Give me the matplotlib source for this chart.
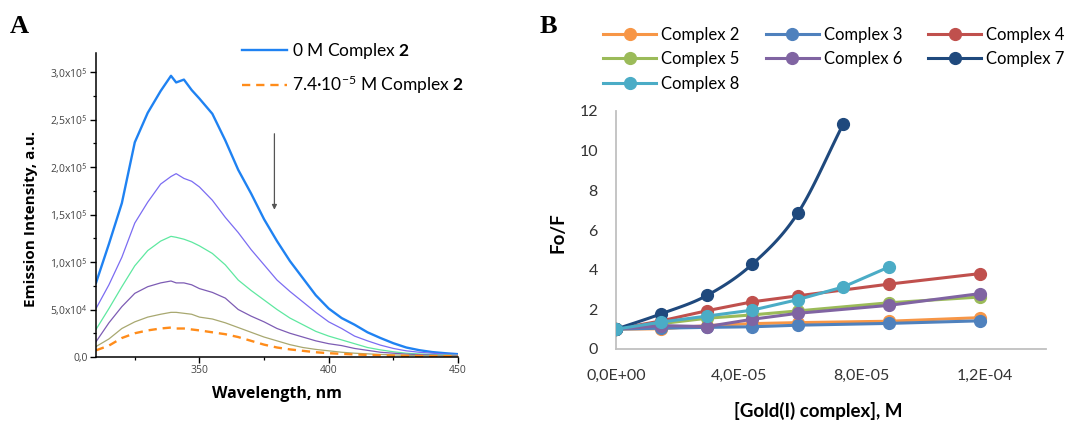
import numpy as np
import matplotlib
matplotlib.use("Agg")
import matplotlib.pyplot as plt
from matplotlib.ticker import MultipleLocator, FuncFormatter
from matplotlib.lines import Line2D

plt.rcParams['mathtext.fontset'] = 'custom'
plt.rcParams['mathtext.rm'] = 'Lato'
plt.rcParams['mathtext.bf'] = 'Lato:bold'
plt.rcParams['mathtext.it'] = 'Lato:italic'

# ---------------- Panel A data: emission spectra ----------------
wavelength = [310, 315, 320, 325, 330, 335, 339, 341, 344, 347, 350, 355, 360, 365, 370,
              375, 380, 385, 390, 395, 400, 405, 410, 415, 420, 425, 430, 435, 440, 445, 450]
spec_0 = [0.78e5, 1.19e5, 1.62e5, 2.26e5, 2.57e5, 2.80e5, 2.96e5, 2.89e5, 2.92e5, 2.81e5, 2.72e5,
          2.56e5, 2.28e5, 1.97e5, 1.72e5, 1.45e5, 1.22e5, 1.01e5, 0.83e5, 0.65e5, 0.51e5, 0.41e5,
          0.34e5, 0.26e5, 0.20e5, 0.145e5, 0.10e5, 0.072e5, 0.052e5, 0.04e5, 0.03e5]
spec_1 = [0.51e5, 0.76e5, 1.05e5, 1.41e5, 1.63e5, 1.82e5, 1.90e5, 1.93e5, 1.88e5, 1.85e5, 1.79e5,
          1.65e5, 1.47e5, 1.31e5, 1.13e5, 0.97e5, 0.81e5, 0.69e5, 0.58e5, 0.47e5, 0.37e5, 0.30e5,
          0.22e5, 0.17e5, 0.125e5, 0.09e5, 0.065e5, 0.05e5, 0.04e5, 0.03e5, 0.025e5]
spec_2 = [0.29e5, 0.51e5, 0.74e5, 0.96e5, 1.12e5, 1.22e5, 1.27e5, 1.26e5, 1.24e5, 1.21e5, 1.17e5,
          1.09e5, 0.97e5, 0.81e5, 0.70e5, 0.60e5, 0.50e5, 0.41e5, 0.34e5, 0.27e5, 0.22e5, 0.18e5,
          0.14e5, 0.10e5, 0.075e5, 0.055e5, 0.04e5, 0.032e5, 0.026e5, 0.022e5, 0.018e5]
spec_3 = [0.16e5, 0.36e5, 0.53e5, 0.67e5, 0.74e5, 0.78e5, 0.80e5, 0.78e5, 0.78e5, 0.76e5, 0.72e5,
          0.68e5, 0.62e5, 0.50e5, 0.43e5, 0.37e5, 0.30e5, 0.25e5, 0.21e5, 0.17e5, 0.14e5, 0.12e5,
          0.09e5, 0.07e5, 0.05e5, 0.04e5, 0.03e5, 0.025e5, 0.02e5, 0.017e5, 0.015e5]
spec_4 = [0.11e5, 0.19e5, 0.30e5, 0.37e5, 0.42e5, 0.45e5, 0.47e5, 0.47e5, 0.46e5, 0.45e5, 0.42e5,
          0.40e5, 0.36e5, 0.31e5, 0.26e5, 0.21e5, 0.17e5, 0.13e5, 0.10e5, 0.08e5, 0.065e5, 0.05e5,
          0.04e5, 0.033e5, 0.027e5, 0.022e5, 0.018e5, 0.015e5, 0.013e5, 0.011e5, 0.01e5]
spec_5 = [0.07e5, 0.12e5, 0.20e5, 0.25e5, 0.28e5, 0.30e5, 0.31e5, 0.30e5, 0.30e5, 0.29e5, 0.28e5,
          0.26e5, 0.24e5, 0.21e5, 0.17e5, 0.13e5, 0.10e5, 0.08e5, 0.065e5, 0.05e5, 0.04e5, 0.033e5,
          0.027e5, 0.022e5, 0.018e5, 0.015e5, 0.013e5, 0.011e5, 0.01e5, 0.009e5, 0.008e5]
legend_a = ["0 M Complex $\\mathbf{2}$", "7.4\u00b710$^{-5}$ M Complex $\\mathbf{2}$"]

# ---------------- Panel B data: Stern-Volmer ----------------
conc_long = [0, 1.48e-5, 2.96e-5, 4.44e-5, 5.92e-5, 8.88e-5, 1.184e-4]
conc_c7 = [0, 1.48e-5, 2.96e-5, 4.44e-5, 5.92e-5, 7.4e-5]
conc_c8 = [0, 1.48e-5, 2.96e-5, 4.44e-5, 5.92e-5, 7.4e-5, 8.88e-5]
fo_c2 = [1.0, 1.02, 1.18, 1.28, 1.33, 1.40, 1.58]
fo_c3 = [1.0, 1.05, 1.09, 1.12, 1.20, 1.29, 1.42]
fo_c4 = [1.0, 1.42, 1.93, 2.38, 2.68, 3.27, 3.80]
fo_c5 = [1.0, 1.28, 1.55, 1.72, 1.92, 2.33, 2.62]
fo_c6 = [1.0, 1.18, 1.13, 1.50, 1.80, 2.20, 2.79]
fo_c7 = [1.0, 1.78, 2.70, 4.28, 6.85, 11.35]
fo_c8 = [1.0, 1.36, 1.66, 1.96, 2.49, 3.13, 4.13]
names_b = ["Complex 2", "Complex 3", "Complex 4", "Complex 5", "Complex 6", "Complex 7", "Complex 8"]

fig = plt.figure(figsize=(10.65, 4.21), dpi=100)

# ================= Panel A =================
W, H = 1065, 421
axA = fig.add_axes([96 / W, 1 - 357 / H, (458 - 96) / W, (357 - 53) / H])
styles = [
    (spec_0, '#1f82f2', 1.7, '-'),
    (spec_1, '#7b6cf2', 0.9, '-'),
    (spec_2, '#5ee8a0', 0.9, '-'),
    (spec_3, '#7d5cb4', 0.9, '-'),
    (spec_4, '#a8a870', 0.9, '-'),
    (spec_5, '#ff8c1a', 1.7, (0, (3.5, 2.5))),
]
lines_a = []
for s, c, lw, ls in styles:
    l, = axA.plot(wavelength, s, color=c, lw=lw, ls=ls)
    lines_a.append(l)
axA.set_xlim(310, 450)
axA.set_ylim(0, 3.2e5)
axA.xaxis.set_major_locator(MultipleLocator(50))
axA.xaxis.set_minor_locator(MultipleLocator(25))
axA.yaxis.set_major_locator(MultipleLocator(5e4))
axA.yaxis.set_minor_locator(MultipleLocator(2.5e4))


def fmt_a(v, pos):
    if v <= 0:
        return "0,0" if abs(v) < 1 else ""
    e = int(np.floor(np.log10(v)))
    m = v / 10 ** e
    return ("%.1f" % m).replace('.', ',') + "x10$^{%d}$" % e


axA.yaxis.set_major_formatter(FuncFormatter(fmt_a))
for sp in ['top', 'right']:
    axA.spines[sp].set_visible(False)
for sp in ['left', 'bottom']:
    axA.spines[sp].set_linewidth(1.1)
axA.tick_params(which='major', length=4, width=1.0, direction='out', labelsize=7.5,
                labelcolor='#444444', pad=2)
axA.tick_params(which='minor', length=2.5, width=0.9, direction='out')
for lab in axA.get_xticklabels() + axA.get_yticklabels():
    lab.set_fontfamily('Open Sans')
axA.set_xlabel("Wavelength, nm", fontsize=11.5, fontweight='bold', family='Open Sans')
axA.set_ylabel("Emission Intensity, a.u.", fontsize=11, fontweight='bold', family='Open Sans')
axA.xaxis.set_label_coords(0.5, -0.097)
axA.yaxis.set_label_coords(-0.16, 0.454)

arrow_x, arrow_y0, arrow_y1 = 379, 2.35e5, 1.55e5
axA.annotate('', xy=(arrow_x, arrow_y1), xytext=(arrow_x, arrow_y0),
             arrowprops=dict(arrowstyle='-|>', color='#555555', lw=0.9,
                             mutation_scale=7, shrinkA=0, shrinkB=0))

legA = fig.legend([lines_a[0], lines_a[5]], legend_a, loc='upper left',
                  bbox_to_anchor=(242 / W, 1 - 41 / H), frameon=False, borderpad=0,
                  borderaxespad=0, handlelength=2.6, handletextpad=0.3, labelspacing=0.75,
                  prop={'family': 'Lato', 'size': 12.5})

fig.text(10 / W, 1 - 33 / H, "A", fontsize=19, fontweight='bold', family='Liberation Serif')
fig.text(540 / W, 1 - 33 / H, "B", fontsize=19, fontweight='bold', family='Liberation Serif')

# ================= Panel B =================
axB = fig.add_axes([616 / W, 1 - 349 / H, (1046 - 616) / W, (349 - 111) / H])
colors_b = ['#F79646', '#4F81BD', '#C0504D', '#9BBB59', '#8064A2', '#1F497D', '#4BACC6']
xs_b = [conc_long, conc_long, conc_long, conc_long, conc_long, conc_c7, conc_c8]
ys_b = [fo_c2, fo_c3, fo_c4, fo_c5, fo_c6, fo_c7, fo_c8]
XMAX, YMAX = 1.4e-4, 12


def catmull(x, y, n=20):
    px = np.asarray(x) / XMAX
    py = np.asarray(y) / YMAX
    P = np.column_stack([px, py])
    P = np.vstack([P[0] - (P[1] - P[0]), P, P[-1] + (P[-1] - P[-2])])
    out = []
    t = np.linspace(0, 1, n)[:, None]
    for i in range(1, len(P) - 2):
        p0, p1, p2, p3 = P[i - 1], P[i], P[i + 1], P[i + 2]
        seg = 0.5 * ((2 * p1) + (-p0 + p2) * t + (2 * p0 - 5 * p1 + 4 * p2 - p3) * t ** 2
                     + (-p0 + 3 * p1 - 3 * p2 + p3) * t ** 3)
        out.append(seg)
    out = np.vstack(out)
    return out[:, 0] * XMAX, out[:, 1] * YMAX


handles_b = []
for i, (xv, yv, c) in enumerate(zip(xs_b, ys_b, colors_b)):
    if names_b[i] == "Complex 7":
        sx, sy = catmull(xv, yv)
        axB.plot(sx, sy, color=c, lw=2.2, zorder=3 + i)
    else:
        axB.plot(xv, yv, color=c, lw=2.2, zorder=3 + i)
    axB.plot(xv, yv, ls='none', marker='o', ms=8.5, color=c, zorder=3 + i)
    handles_b.append(Line2D([], [], color=c, lw=2.2, marker='o', ms=8.5))

axB.set_xlim(0, XMAX)
axB.set_ylim(0, YMAX)
axB.set_xticks([0, 4e-5, 8e-5, 1.2e-4])
axB.set_xticklabels(["0,0E+00", "4,0E-05", "8,0E-05", "1,2E-04"])
axB.set_yticks([0, 2, 4, 6, 8, 10, 12])
for sp in ['top', 'right']:
    axB.spines[sp].set_visible(False)
for sp in ['left', 'bottom']:
    axB.spines[sp].set_color('#c0c0c0')
    axB.spines[sp].set_linewidth(1.3)
axB.tick_params(length=0, labelsize=11.5, labelcolor='#333333')
axB.tick_params(axis='x', pad=14)
axB.tick_params(axis='y', pad=13)
for lab in axB.get_xticklabels() + axB.get_yticklabels():
    lab.set_fontfamily('Lato')
axB.set_ylabel("Fo/F", fontsize=13.5, fontweight='bold', family='Lato')
axB.set_xlabel("[Gold(I) complex], M", fontsize=13.5, fontweight='bold', family='Lato')
axB.yaxis.set_label_coords(-0.114, 0.487)
axB.xaxis.set_label_coords(0.47, -0.222)

order = [0, 3, 6, 1, 4, 2, 5]
fig.legend([handles_b[k] for k in order], [names_b[k] for k in order], ncol=3,
           loc='upper left', bbox_to_anchor=(603 / W, 1 - 27 / H), frameon=False,
           borderpad=0, borderaxespad=0, handlelength=3.2, handletextpad=0.3,
           columnspacing=1.55, labelspacing=0.5, prop={'family': 'Lato', 'size': 12})

fig.savefig("out.png", dpi=100)
